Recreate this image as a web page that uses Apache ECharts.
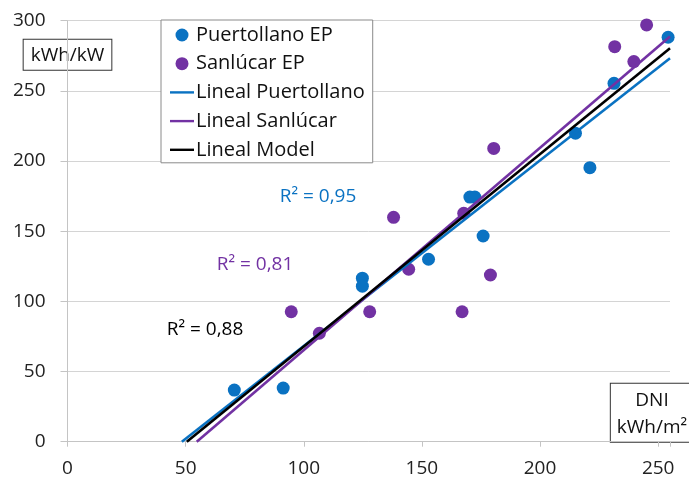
<!DOCTYPE html>
<html>
<head>
<meta charset="utf-8">
<script src="https://cdn.jsdelivr.net/npm/echarts@6/dist/echarts.min.js"></script>
<style>
html,body{margin:0;padding:0;background:#fff;}
#chart{width:689px;height:480px;}
</style>
</head>
<body>
<div id="chart"></div>
<script>
// Measured data (DNI kWh/m², yield kWh/kW)
var puertollano = [
  [70.6, 36.8], [91.3, 38.2], [124.8, 116.5], [124.8, 110.8], [152.8, 130.0],
  [170.3, 174.3], [172.4, 174.3], [175.9, 146.6], [215.0, 219.8], [221.1, 195.3],
  [231.3, 255.4], [254.2, 288.2]
];
var sanlucar = [
  [94.7, 92.6], [106.6, 77.3], [127.9, 92.6], [138.0, 159.9], [144.4, 122.9],
  [167.0, 92.6], [167.7, 162.8], [179.0, 118.8], [180.4, 209.0], [231.6, 281.5],
  [239.7, 270.9], [245.1, 297.0]
];
var linealPuertollano = [[48.4, 0], [255, 273.3]];
var linealSanlucar = [[54.7, 0], [255, 288.7]];
var linealModel = [[50.5, 0], [255, 280.4]];
var seriesNames = ['Puertollano EP', 'Sanlúcar EP', 'Lineal Puertollano', 'Lineal Sanlúcar', 'Lineal Model'];
var r2Texts = ['R² = 0,95', 'R² = 0,81', 'R² = 0,88'];
var xTicks = [0, 50, 100, 150, 200, 250];
var yTicks = [0, 50, 100, 150, 200, 250, 300];

var BLUE = '#0A72C2', PURPLE = '#7232A3', BLACK = '#000000';
var FONT = 'Open Sans';
var linePath = 'path://M0 0H24V2.4H0Z';

var chart = echarts.init(document.getElementById('chart'), null, {renderer: 'canvas'});
chart.setOption({
  animation: false,
  backgroundColor: '#fff',
  textStyle: {fontFamily: FONT},
  grid: {left: 67.5, right: 19, top: 20.7, bottom: 38.3, containLabel: false, outerBoundsMode: 'none'},
  xAxis: {
    type: 'value', min: xTicks[0], max: 255, interval: 50,
    name: 'DNI\nkWh/m²', nameLocation: 'end', nameGap: -18,
    nameTextStyle: {fontFamily: FONT, fontSize: 19, color: '#111', align: 'center', verticalAlign: 'bottom',
      lineHeight: 27, padding: [3, 6, 1, 6], borderColor: '#333', borderWidth: 1, backgroundColor: '#fff'},
    axisLine: {show: true, lineStyle: {color: '#c4c4c4', width: 1}},
    axisTick: {show: true, length: 5, lineStyle: {color: '#c4c4c4'}},
    splitLine: {show: false},
    axisLabel: {fontFamily: FONT, fontSize: 19, color: '#222', margin: 17,
      formatter: function (v) { return xTicks.indexOf(v) >= 0 ? String(v) : ''; }}
  },
  yAxis: {
    type: 'value', min: yTicks[0], max: yTicks[yTicks.length - 1], interval: 50,
    name: 'kWh/kW', nameLocation: 'end', nameGap: -49,
    nameTextStyle: {fontFamily: FONT, fontSize: 19, color: '#111', align: 'center', verticalAlign: 'bottom',
      padding: [6, 7, 5, 7], borderColor: '#333', borderWidth: 1, backgroundColor: '#fff'},
    axisLine: {show: true, lineStyle: {color: '#c4c4c4', width: 1}},
    axisTick: {show: true, length: 7, lineStyle: {color: '#c4c4c4'}},
    splitLine: {show: true, lineStyle: {color: '#d4d4d4', width: 1}},
    axisLabel: {fontFamily: FONT, fontSize: 19, color: '#222', margin: 22}
  },
  legend: {
    orient: 'vertical', left: 161, top: 20,
    padding: [5, 8, 3, 9], itemGap: 8.7, itemWidth: 24, itemHeight: 13,
    borderColor: '#8a8a8a', borderWidth: 1, backgroundColor: '#fff',
    textStyle: {fontFamily: FONT, fontSize: 20, color: '#111', lineHeight: 20, padding: [0, 0, 0, -3]},
    data: [
      {name: seriesNames[0], icon: 'circle'},
      {name: seriesNames[1], icon: 'circle'},
      {name: seriesNames[2], icon: linePath},
      {name: seriesNames[3], icon: linePath},
      {name: seriesNames[4], icon: linePath}
    ]
  },
  series: [
    {name: seriesNames[0], type: 'scatter', data: puertollano, symbol: 'circle', symbolSize: 13,
      itemStyle: {color: BLUE, opacity: 1}, z: 2},
    {name: seriesNames[1], type: 'scatter', data: sanlucar, symbol: 'circle', symbolSize: 13,
      itemStyle: {color: PURPLE, opacity: 1}, z: 2},
    {name: seriesNames[2], type: 'line', data: linealPuertollano, showSymbol: false, symbol: 'none',
      lineStyle: {color: BLUE, width: 2.6}, itemStyle: {color: BLUE}, z: 3},
    {name: seriesNames[3], type: 'line', data: linealSanlucar, showSymbol: false, symbol: 'none',
      lineStyle: {color: PURPLE, width: 2.6}, itemStyle: {color: PURPLE}, z: 4},
    {name: seriesNames[4], type: 'line', data: linealModel, showSymbol: false, symbol: 'none',
      lineStyle: {color: BLACK, width: 2.6}, itemStyle: {color: BLACK}, z: 5}
  ],
  graphic: [
    {type: 'text', x: 318, y: 197, z: 10, style: {text: r2Texts[0], fill: BLUE, font: '19px "Open Sans"', textAlign: 'center', textVerticalAlign: 'middle'}},
    {type: 'text', x: 255, y: 265, z: 10, style: {text: r2Texts[1], fill: PURPLE, font: '19px "Open Sans"', textAlign: 'center', textVerticalAlign: 'middle'}},
    {type: 'text', x: 205, y: 330, z: 10, style: {text: r2Texts[2], fill: BLACK, font: '19px "Open Sans"', textAlign: 'center', textVerticalAlign: 'middle'}}
  ]
});
</script>
</body>
</html>
